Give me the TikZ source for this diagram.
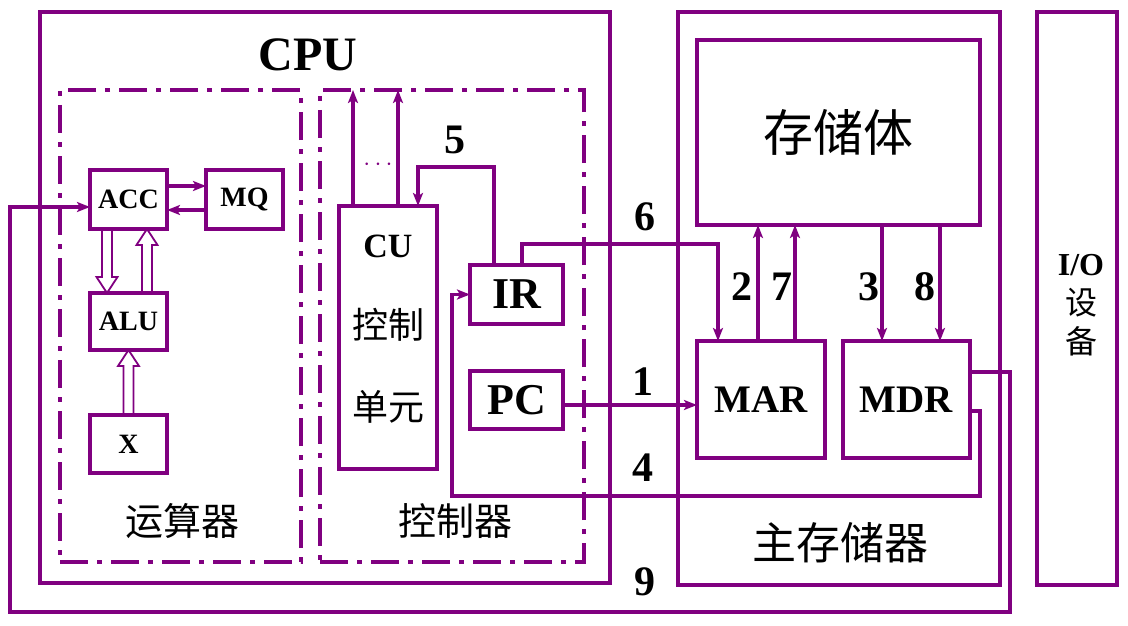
\documentclass[tikz,border=0pt]{standalone}
\usepackage{fontspec}
\setmainfont{Liberation Serif}
\newfontfamily\cjk{Noto Sans CJK SC}
\usetikzlibrary{positioning, arrows.meta, calc}
\definecolor{lin}{RGB}{128,0,128}
\newcommand\fsz[1]{\fontsize{#1}{#1}\selectfont}

\begin{document}
\begin{tikzpicture}[x=1pt, y=-1pt, >={Stealth[length=13pt, width=10pt, inset=3pt]},
  blk/.style={draw=lin, line width=4.5pt, outer sep=0pt, inner sep=0pt, font=\fsz{28}\bfseries},
  grp/.style={draw=lin, line width=4pt, outer sep=0pt, dash pattern=on 28pt off 9pt on 5pt off 9pt},
  lnk/.style={draw=lin, line width=3.5pt, ->},
  num/.style={font=\fsz{42}\bfseries},
  unitlbl/.style={font=\cjk\fsz{38}},
  hollow/.style={draw=lin, line width=1.8pt, to path={
    ($(\tikztostart)!5pt!90:(\tikztotarget)$)
    -- ($(\tikztotarget)!16pt!(\tikztostart)!5pt!-90:(\tikztostart)$)
    -- ($(\tikztotarget)!16pt!(\tikztostart)!10.5pt!-90:(\tikztostart)$)
    -- (\tikztotarget)
    -- ($(\tikztotarget)!16pt!(\tikztostart)!10.5pt!90:(\tikztostart)$)
    -- ($(\tikztotarget)!16pt!(\tikztostart)!5pt!90:(\tikztostart)$)
    -- ($(\tikztostart)!5pt!-90:(\tikztotarget)$)}}]
  \useasboundingbox (0,0) rectangle (1128,626);
  % CPU
  \node[blk, minimum width=570pt, minimum height=571pt] (cpu) at (325,297.5) {};
  \node[font=\fsz{48}\bfseries] (cpulbl) at (308,55) {CPU};
  \node[grp, minimum width=241pt, minimum height=472pt] (alub) at (180.5,326) {};
  \node[grp, minimum width=264pt, minimum height=472pt] (ctrlb) at (452,326) {};
  \node[unitlbl] (alulbl) at (182,521) {运算器};
  \node[unitlbl] (ctrllbl) at (455,521) {控制器};
  \node[blk, minimum width=77pt, minimum height=59pt] (acc) at (128.5,199.5) {ACC};
  \node[blk, minimum width=77pt, minimum height=59pt] (mq) at (244.5,199.5) {MQ};
  \node[blk, minimum width=77pt, minimum height=57pt] (alu) at (128.5,321.5) {ALU};
  \node[blk, minimum width=77pt, minimum height=58pt] (xr) at (128.5,444) {X};
  \node[blk, minimum width=98pt, minimum height=263pt] (cu) at (388,337.5) {};
  \node[align=center, font=\fontsize{36}{81.5}\selectfont] (cutxt) at (388,329)
    {{\bfseries\fsz{34}CU}\\{\cjk 控制}\\{\cjk 单元}};
  \node[blk, minimum width=93pt, minimum height=59pt, font=\fsz{44}\bfseries] (ir) at (516.5,294.5) {IR};
  \node[blk, minimum width=93pt, minimum height=58pt, font=\fsz{44}\bfseries] (pc) at (516.5,400) {PC};
  \node[text=lin, font=\fsz{26}] (dots) at (378,165) {$\cdots$};
  % main memory
  \node[blk, minimum width=322pt, minimum height=573pt] (mem) at (839,298.5) {};
  \node[blk, minimum width=283pt, minimum height=185pt, font=\cjk\fsz{50}] (stor) at (838.5,132.5) {存储体};
  \node[blk, minimum width=128pt, minimum height=117pt, font=\fsz{39}\bfseries] (mar) at (761,399.5) {MAR};
  \node[blk, minimum width=127pt, minimum height=117pt, font=\fsz{39}\bfseries] (mdr) at (906.5,399.5) {MDR};
  \node[font=\cjk\fsz{44}] (memlbl) at (840,543) {主存储器};
  % I/O
  \node[blk, minimum width=80pt, minimum height=573pt] (io) at (1077,298.5) {};
  \node[align=center, font=\fontsize{32}{39}\selectfont] (iotxt) at (1081,305)
    {\textbf{I/O}\\{\cjk 设}\\{\cjk 备}};
  % step numbers
  \node[num] (n1) at (643,382) {1};
  \node[num] (n2) at (742,287) {2};
  \node[num] (n3) at (869,287) {3};
  \node[num] (n4) at (643,468) {4};
  \node[num] (n5) at (455,140) {5};
  \node[num] (n6) at (645,217) {6};
  \node[num] (n7) at (782,287) {7};
  \node[num] (n8) at (925,287) {8};
  \node[num] (n9) at (645,582) {9};
  % data paths
  \draw[lnk] ([yshift=13.5pt]acc.east) -- ([yshift=13.5pt]mq.west);
  \draw[lnk] ([yshift=-10.5pt]mq.west) -- ([yshift=-10.5pt]acc.east);
  \draw[hollow] ([xshift=-21.5pt]acc.south) to ([xshift=-21.5pt]alu.north);
  \draw[hollow] ([xshift=18.5pt]alu.north) to ([xshift=18.5pt]acc.south);
  \draw[hollow] (xr.north) to (alu.south);
  \draw[lnk] ([xshift=-35pt]cu.north) -- ([xshift=-35pt]cu.north |- ctrlb.north);
  \draw[lnk] ([xshift=10pt]cu.north) -- ([xshift=10pt]cu.north |- ctrlb.north);
  \draw[lnk] ([yshift=-5pt]pc.east) -- ([yshift=-5pt]pc.east -| mar.west);
  \draw[lnk] ([xshift=-3pt]mar.north) -- ([xshift=-3pt]mar.north |- stor.south);
  \draw[lnk] ([xshift=34pt]mar.north) -- ([xshift=34pt]mar.north |- stor.south);
  \draw[lnk] ([xshift=-24.5pt]mdr.north |- stor.south) -- ([xshift=-24.5pt]mdr.north);
  \draw[lnk] ([xshift=33.5pt]mdr.north |- stor.south) -- ([xshift=33.5pt]mdr.north);
  \draw[lnk] ([xshift=-22.5pt]ir.north) |- (418,167) -- ([xshift=30pt]cu.north);
  \draw[lnk] ([xshift=5.5pt]ir.north) |- (718,244) -- ([xshift=-43pt]mar.north);
  \draw[lnk] ([yshift=-11.5pt]mdr.east) -| (980,496) -| (452,294.5) -- (ir.west);
  \draw[lnk] ([yshift=27.5pt]mdr.east) -| (1010,612) -| (10,207) -- ([yshift=-7.5pt]acc.west);
\end{tikzpicture}
\end{document}
